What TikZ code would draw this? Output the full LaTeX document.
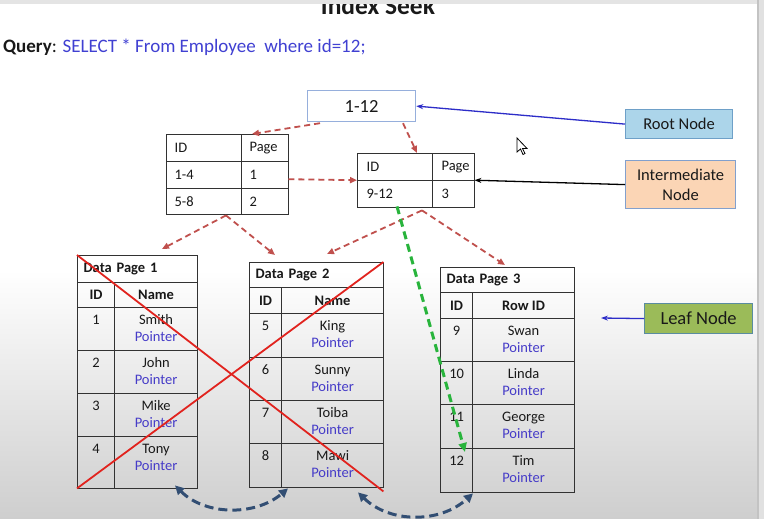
\documentclass[tikz,border=0pt]{standalone}
\usepackage{fontspec}
\setmainfont{Carlito}
\usetikzlibrary{arrows.meta,calc}
\definecolor{qblue}{RGB}{64,64,210}
\definecolor{pblue}{RGB}{70,60,200}
\definecolor{tblc}{RGB}{50,50,50}
\definecolor{rdash}{RGB}{192,80,77}
\definecolor{gdash}{RGB}{40,180,60}
\definecolor{ndash}{RGB}{50,78,115}
\definecolor{xred}{RGB}{225,35,30}
\definecolor{rootbd}{RGB}{150,175,220}
\definecolor{rlfill}{RGB}{172,213,234}
\definecolor{rlbd}{RGB}{110,160,200}
\definecolor{ilfill}{RGB}{251,213,181}
\definecolor{ilbd}{RGB}{130,160,205}
\definecolor{lfill}{RGB}{155,187,89}
\definecolor{lbd}{RGB}{90,140,160}
\definecolor{bgbot}{RGB}{206,206,206}
\definecolor{txt}{RGB}{25,25,25}
\definecolor{topband}{RGB}{228,228,228}
\definecolor{rstrip}{RGB}{225,225,225}
\definecolor{rline}{RGB}{195,195,195}
\definecolor{lblue}{RGB}{45,45,200}
\newcommand\fsT{\fontsize{14.5}{17}\selectfont}
\newcommand\fsL{\fontsize{16.5}{20}\selectfont}
\begin{document}
\begin{tikzpicture}[x=1pt,y=-1pt,
  cell/.style={draw=tblc, line width=1.2pt, inner sep=0pt, anchor=north west, font=\fsT, text=txt},
  outer/.style={inner sep=0pt, anchor=north west},
  rtxt/.style={anchor=base, font=\fsT, text=txt, inner sep=0pt},
  rarr/.style={draw=rdash, line width=1.8pt, dash pattern=on 6pt off 4pt, -{Triangle[length=7pt,width=6pt]}},
  garr/.style={draw=gdash, line width=3pt, dash pattern=on 8pt off 5pt, -{Triangle[length=9pt,width=8pt]}},
  narr/.style={draw=ndash, line width=3pt, dash pattern=on 9pt off 5pt, {Triangle[length=9pt,width=9pt]}-{Triangle[length=9pt,width=9pt]}},
  xline/.style={draw=xred, line width=1.8pt},
  lblarr/.style={line width=1.3pt, -{Stealth[length=7pt,width=5pt]}},
  lbl/.style={inner sep=0pt, anchor=north west, line width=1.2pt, align=center}
]
\useasboundingbox (0,0) rectangle (764,519);
\clip (0,0) rectangle (764,519);
% background
\fill[white] (0,0) rectangle (764,519);
\shade[top color=white, bottom color=bgbot] (0,270) rectangle (764,519);
\node[anchor=base, font=\bfseries\fontsize{25.5}{28}\selectfont, inner sep=0pt, text=txt] (title) at (378,15) {Index Seek};
\fill[topband] (0,0) rectangle (764,4);
\fill[rstrip] (757,0) rectangle (764,519);
\draw[rline, line width=2pt] (758,0) -- (758,519);

% query
\node[anchor=base west, font=\fontsize{19}{22}\selectfont, inner sep=0pt, text=txt] (query) at (3,53)
  {\textbf{Query}: \textcolor{qblue}{SELECT * From Employee\ \ where id=12;}};

% root
\node[draw=rootbd, line width=1.2pt, fill=white, minimum width=108pt, minimum height=31pt, anchor=north west, inner sep=0pt,
  font=\fontsize{18.5}{20}\selectfont, text=txt] (root) at (307,90) {1-12};

% index table 1
\node[outer, minimum width=122pt, minimum height=80pt] (t1) at (166,134) {};
\node[cell, minimum height=27pt, inner xsep=8pt, text width=59pt, align=left] (t1a) at (166,134) {ID};
\node[cell, minimum height=27pt, inner xsep=8pt, text width=31pt, align=left] (t1b) at (241,134) {Page};
\node[cell, minimum height=27pt, inner xsep=8pt, text width=59pt, align=left] (t1c) at (166,161) {1-4};
\node[cell, minimum height=27pt, inner xsep=8pt, text width=31pt, align=left] (t1d) at (241,161) {1};
\node[cell, minimum height=26pt, inner xsep=8pt, text width=59pt, align=left] (t1e) at (166,188) {5-8};
\node[cell, minimum height=26pt, inner xsep=8pt, text width=31pt, align=left] (t1f) at (241,188) {2};

% index table 2
\node[outer, minimum width=117pt, minimum height=54pt] (t2) at (357,153) {};
\node[cell, minimum height=27pt, inner xsep=9pt, text width=57pt, align=left] (t2a) at (357,153) {ID};
\node[cell, minimum height=27pt, inner xsep=9pt, text width=24pt, align=left] (t2b) at (432,153) {Page};
\node[cell, minimum height=27pt, inner xsep=9pt, text width=57pt, align=left] (t2c) at (357,180) {9-12};
\node[cell, minimum height=27pt, inner xsep=9pt, text width=24pt, align=left] (t2d) at (432,180) {3};

% data page 1
\node[outer, minimum width=120pt, minimum height=233pt] (dp1) at (77,255) {};
\node[cell, minimum height=27pt, inner xsep=6pt, text width=108pt, align=left, font=\fsT\bfseries] (dp1h) at (77,255) {Data Page 1};
\node[cell, minimum width=37pt, minimum height=25pt, font=\fsT\bfseries] (dp1i) at (77,282) {ID};
\node[cell, minimum width=83pt, minimum height=25pt, font=\fsT\bfseries] (dp1n) at (114,282) {Name};
\foreach \i/\y/\h/\nm in {1/307/43/Smith, 2/350/43/John, 3/393/43/Mike, 4/436/52/Tony} {
  \node[cell, minimum width=37pt, minimum height={\h*1pt}] (dp1a\i) at (77,\y) {};
  \node[cell, minimum width=83pt, minimum height={\h*1pt}] (dp1b\i) at (114,\y) {};
  \node[rtxt] (dp1id\i) at ($(dp1a\i.north)+(0,17.5)$) {\i};
  \node[rtxt] (dp1nm\i) at ($(dp1b\i.north)+(0,17.5)$) {\nm};
  \node[rtxt, text=pblue] (dp1pt\i) at ($(dp1b\i.north)+(0,34.5)$) {Pointer};
}

% data page 2
\node[outer, minimum width=134pt, minimum height=225pt] (dp2) at (249,262) {};
\node[cell, minimum height=25pt, inner xsep=6pt, text width=122pt, align=left, font=\fsT\bfseries] (dp2h) at (249,262) {Data Page 2};
\node[cell, minimum width=32pt, minimum height=26pt, font=\fsT\bfseries] (dp2i) at (249,287) {ID};
\node[cell, minimum width=102pt, minimum height=26pt, font=\fsT\bfseries] (dp2n) at (281,287) {Name};
\foreach \i/\n/\y/\h/\nm in {1/5/313/44/King, 2/6/357/43/Sunny, 3/7/400/43/Toiba, 4/8/443/44/Mawi} {
  \node[cell, minimum width=32pt, minimum height={\h*1pt}] (dp2a\i) at (249,\y) {};
  \node[cell, minimum width=102pt, minimum height={\h*1pt}] (dp2b\i) at (281,\y) {};
  \node[rtxt] (dp2id\i) at ($(dp2a\i.north)+(0,17.5)$) {\n};
  \node[rtxt] (dp2nm\i) at ($(dp2b\i.north)+(0,17.5)$) {\nm};
  \node[rtxt, text=pblue] (dp2pt\i) at ($(dp2b\i.north)+(0,34.5)$) {Pointer};
}

% data page 3
\node[outer, minimum width=134pt, minimum height=225pt] (dp3) at (440,267) {};
\node[cell, minimum height=25pt, inner xsep=6pt, text width=122pt, align=left, font=\fsT\bfseries] (dp3h) at (440,267) {Data Page 3};
\node[cell, minimum width=32pt, minimum height=26pt, font=\fsT\bfseries] (dp3i) at (440,292) {ID};
\node[cell, minimum width=102pt, minimum height=26pt, font=\fsT\bfseries] (dp3n) at (472,292) {Row ID};
\foreach \i/\n/\y/\h/\nm in {1/9/318/43/Swan, 2/10/361/43/Linda, 3/11/404/44/George, 4/12/448/44/Tim} {
  \node[cell, minimum width=32pt, minimum height={\h*1pt}] (dp3a\i) at (440,\y) {};
  \node[cell, minimum width=102pt, minimum height={\h*1pt}] (dp3b\i) at (472,\y) {};
  \node[rtxt] (dp3id\i) at ($(dp3a\i.north)+(0,17.5)$) {\n};
  \node[rtxt] (dp3nm\i) at ($(dp3b\i.north)+(0,17.5)$) {\nm};
  \node[rtxt, text=pblue] (dp3pt\i) at ($(dp3b\i.north)+(0,34.5)$) {Pointer};
}

% labels
\node[lbl, fill=rlfill, draw=rlbd, minimum width=107pt, minimum height=29pt, font=\fsL, text=txt] (rootlbl) at (625,109) {Root Node};
\node[lbl, fill=ilfill, draw=ilbd, minimum width=110pt, minimum height=48pt, font=\fsL, text=txt] (interlbl) at (625,160) {Intermediate\\Node};
\node[lbl, fill=lfill, draw=lbd, minimum width=108pt, minimum height=30pt, font=\fontsize{18.5}{20}\selectfont, text=txt] (leaflbl) at (644,303) {Leaf Node};
\coordinate (leafpt) at (601,318);

\draw[lblarr, draw=lblue] (rootlbl.west) -- (root.east);
\draw[lblarr, draw=black] ($(interlbl.west)+(0,0)$) -- (t2.east);
\draw[lblarr, draw=lblue] (leaflbl.west) -- (leafpt);

% red dashed arrows
\draw[rarr] ($(root.south west)+(13,1)$) -- ($(t1.north west)+(86,0)$);
\draw[rarr] ($(root.south west)+(96,1)$) -- ($(t2.north west)+(60,0)$);
\draw[rarr] ($(t1.east)+(0,5)$) -- (t2.west);
\coordinate (ap1) at ($(t1.south west)+(60,1)$);
\coordinate (ap2) at ($(t2.south west)+(65,3)$);
\draw[rarr] (ap1) -- ($(dp1.north west)+(85,-6)$);
\draw[rarr] (ap1) -- ($(dp2.north west)+(26,-7)$);
\draw[rarr] (ap2) -- ($(dp2.north west)+(78,-8)$);
\draw[rarr] (ap2) -- ($(dp3.north west)+(65,-2)$);

% red cross
\draw[xline] (dp1.north west) -- ($(dp2.south east)+(0,4)$);
\draw[xline] (dp1.south west) -- (dp2.north east);

% green dashed search path
\draw[garr] ($(t2.south west)+(40,-1)$) -- ($(dp3.north west)+(25,185)$);

% leaf links
\draw[narr] ($(dp1.south west)+(98,-3)$) .. controls +(30,30) and +(-33,28) .. ($(dp2.south west)+(39,1)$);
\draw[narr] ($(dp2.south west)+(109,5)$) .. controls +(32,31) and +(-33,30) .. ($(dp3.south west)+(33,1)$);

% mouse cursor
\filldraw[fill=white, draw=black, line width=0.8pt] (517,138) -- (517,152) -- (520.5,149) -- (523,154.5) -- (525,153.5) -- (522.5,148.5) -- (527,148.5) -- cycle;
\end{tikzpicture}
\end{document}
